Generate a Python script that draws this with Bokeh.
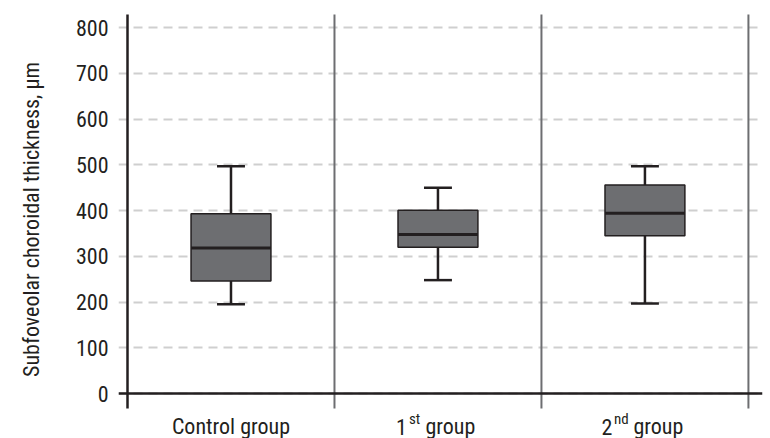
from bokeh.plotting import figure
from bokeh.models import Range1d, FixedTicker, Span, ColumnDataSource
from bokeh.core.properties import value
from bokeh.embed import file_html
from bokeh.resources import INLINE

# ---- data ----
groups = ["Control group", "1", "2"]
group_sups = ["", "st", "nd"]
whisker_low = [195, 248, 197]
q1 = [246, 320, 345]
median = [318, 348, 394]
q3 = [393, 401, 456]
whisker_high = [497, 450, 497]
y_ticks = [0, 100, 200, 300, 400, 500, 600, 700, 800]

FONT = "Roboto Condensed, Liberation Sans Narrow, DejaVu Sans Condensed, Roboto"
DARK = "#231f20"
GRAY = "#6d6e71"

centers = [i + 0.5 for i in range(len(groups))]
box_w = 0.386
cap_w = 0.135

X_START, X_END = -0.0435, 3.068
Y_TOP = 859.6
Y_BOTTOM = -98.4
AXIS_TOP = 829
AXIS_BOTTOM = -32.8
W, H = 770, 438
BORDER_L, BORDER_R = 118, 8
PX_PER_UNIT = (W - BORDER_L - BORDER_R) / (X_END - X_START)

src = ColumnDataSource(dict(
    x=centers, lo=whisker_low, q1=q1, med=median, q3=q3, hi=whisker_high,
    xl=[c - box_w / 2 for c in centers], xr=[c + box_w / 2 for c in centers],
    cl=[c - cap_w / 2 for c in centers], cr=[c + cap_w / 2 for c in centers],
))

p = figure(width=W, height=H, output_backend="svg", toolbar_location=None,
           x_range=Range1d(X_START, X_END), y_range=Range1d(Y_BOTTOM, Y_TOP),
           min_border_left=BORDER_L, min_border_right=BORDER_R, min_border_top=0,
           min_border_bottom=0)
p.outline_line_color = None
p.background_fill_color = "white"
p.border_fill_color = "white"
p.xaxis.visible = False
p.xgrid.visible = False

p.yaxis.ticker = FixedTicker(ticks=y_ticks)
p.yaxis.axis_line_color = None
p.yaxis.major_tick_line_color = None
p.yaxis.minor_tick_line_color = None
p.yaxis.major_label_standoff = 4
p.yaxis.major_label_text_font = FONT
p.yaxis.major_label_text_font_size = "22px"
p.yaxis.major_label_text_color = DARK
p.yaxis.axis_label = "Subfoveolar choroidal thickness, µm"
p.yaxis.axis_label_text_font = FONT
p.yaxis.axis_label_text_font_size = "22px"
p.yaxis.axis_label_text_font_style = "normal"
p.yaxis.axis_label_text_color = DARK
p.yaxis.axis_label_standoff = 29

p.ygrid.ticker = FixedTicker(ticks=y_ticks)
p.ygrid.grid_line_color = "#cfcfcf"
p.ygrid.grid_line_width = 2
p.ygrid.grid_line_dash = "9 6"

# separators and axis lines
sep_x = list(range(1, len(groups) + 1))
p.segment(x0=sep_x, y0=[AXIS_BOTTOM] * len(sep_x), x1=sep_x, y1=[AXIS_TOP] * len(sep_x),
          line_color=GRAY, line_width=2)
p.segment(x0=[0], y0=[AXIS_BOTTOM], x1=[0], y1=[AXIS_TOP], line_color=DARK, line_width=2.5)
p.add_layout(Span(location=0, dimension="width", line_color=DARK, line_width=2.5))

# whiskers
p.segment(x0="x", y0="q3", x1="x", y1="hi", source=src, line_color=DARK, line_width=2.5)
p.segment(x0="x", y0="lo", x1="x", y1="q1", source=src, line_color=DARK, line_width=2.5)
p.segment(x0="cl", y0="hi", x1="cr", y1="hi", source=src, line_color=DARK, line_width=2.5)
p.segment(x0="cl", y0="lo", x1="cr", y1="lo", source=src, line_color=DARK, line_width=2.5)
# boxes
p.vbar(x="x", width=box_w, bottom="q1", top="q3", source=src,
       fill_color=GRAY, line_color=DARK, line_width=1.5)
p.segment(x0="xl", y0="med", x1="xr", y1="med", source=src, line_color=DARK, line_width=3)

# category labels
base_y = -72.2
sup_y = -55.5
offsets = {"st": (-42, -29, -12.5), "nd": (-43.5, -31, -11.5)}
for c, g, s in zip(centers, groups, group_sups):
    if not s:
        p.text(x=[c], y=[base_y], text=[g], text_font=value(FONT), text_font_size="22px",
               text_color=DARK, text_align="center", text_baseline="alphabetic")
    else:
        o_num, o_sup, o_grp = offsets[s]
        p.text(x=[c + o_num / PX_PER_UNIT], y=[base_y], text=[g], text_font=value(FONT),
               text_font_size="22px", text_color=DARK, text_align="left",
               text_baseline="alphabetic")
        p.text(x=[c + o_sup / PX_PER_UNIT], y=[sup_y], text=[s], text_font=value(FONT),
               text_font_size="15px", text_color=DARK, text_align="left",
               text_baseline="alphabetic")
        p.text(x=[c + o_grp / PX_PER_UNIT], y=[base_y], text=["group"], text_font=value(FONT),
               text_font_size="22px", text_color=DARK, text_align="left",
               text_baseline="alphabetic")

open("out.html", "w").write(file_html(p, INLINE))
